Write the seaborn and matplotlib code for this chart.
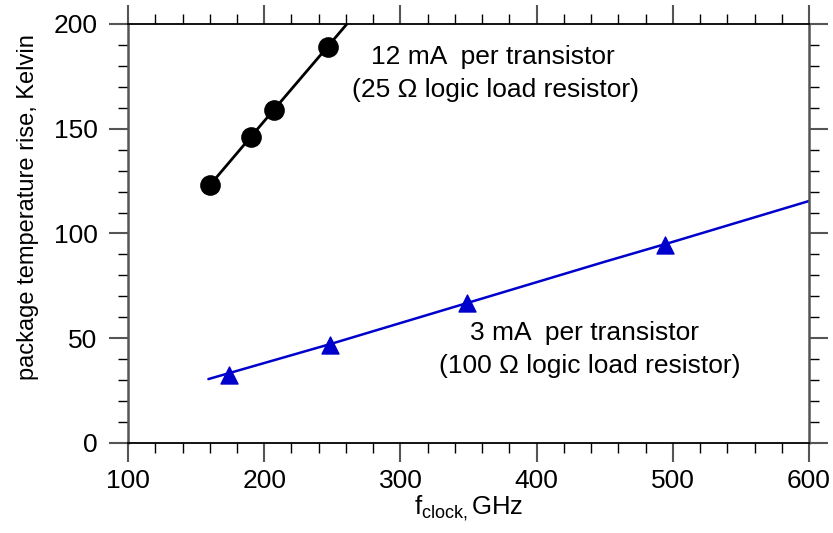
import numpy as np
import pandas as pd
import matplotlib
matplotlib.use("Agg")
import matplotlib.pyplot as plt
import seaborn as sns
from matplotlib.ticker import MultipleLocator

sns.set_style("ticks")
plt.rcParams["font.family"] = ["Liberation Sans", "DejaVu Sans"]
plt.rcParams["mathtext.fontset"] = "custom"
plt.rcParams["mathtext.rm"] = "Liberation Sans"
plt.rcParams["mathtext.it"] = "Liberation Sans"
plt.rcParams["text.color"] = "black"
plt.rcParams["axes.labelcolor"] = "black"
plt.rcParams["xtick.labelcolor"] = "black"
plt.rcParams["ytick.labelcolor"] = "black"

# 12 mA per transistor (25 ohm load)
hi_x = [160, 190, 207, 247]
hi_y = [123, 146, 159, 189]
hi_fit_x = [160, 190, 207, 247, 262]
hi_fit_y = [123, 146, 159, 189.5, 201]

# 3 mA per transistor (100 ohm load)
lo_x = [174, 248, 349, 494]
lo_y = [32.5, 47, 67, 94.5]
lo_fit_x = [159, 250, 350, 450, 500, 600]
lo_fit_y = [30.5, 47.5, 67, 86.5, 96, 115.5]

blue = "#0000cc"

fig = plt.figure(figsize=(8.33, 5.33), dpi=100)
ax = fig.add_axes([0.1537, 0.1689, 0.8175, 0.7861])

sns.lineplot(x=hi_fit_x, y=hi_fit_y, ax=ax, color="black", lw=2, sort=False)
sns.scatterplot(x=hi_x, y=hi_y, ax=ax, color="black", marker="o", s=190,
                edgecolor="black", zorder=5)
sns.lineplot(x=lo_fit_x, y=lo_fit_y, ax=ax, color=blue, lw=1.8, sort=False)
sns.scatterplot(x=lo_x, y=lo_y, ax=ax, color=blue, marker="^", s=150,
                edgecolor=blue, zorder=5)

ax.set_xlim(100, 600)
ax.set_ylim(0, 200)
ax.xaxis.set_major_locator(MultipleLocator(100))
ax.xaxis.set_minor_locator(MultipleLocator(20))
ax.yaxis.set_major_locator(MultipleLocator(50))
ax.yaxis.set_minor_locator(MultipleLocator(10))

ax.tick_params(which="both", direction="out", top=True, right=True,
               labelsize=19)
ax.tick_params(axis="x", which="major", pad=5)
ax.tick_params(axis="y", which="major", pad=8)
ax.tick_params(which="major", length=14, width=1.5, color="#555555")
ax.tick_params(which="minor", length=7, width=1, color="black")
for s in ["left", "right"]:
    ax.spines[s].set_color("#555555")
    ax.spines[s].set_linewidth(1.8)
for s in ["top", "bottom"]:
    ax.spines[s].set_color("black")
    ax.spines[s].set_linewidth(1.3)

ax.set_ylabel("package temperature rise, Kelvin", fontsize=17)
ax.yaxis.set_label_coords(-0.131, 0.563)
ax.set_xlabel(r"f$_{\mathrm{clock,}}$GHz", fontsize=18.5, labelpad=0)

fs = 19
ax.text(0.536, 0.921, "12 mA  per transistor", transform=ax.transAxes,
        ha="center", va="center", fontsize=fs)
ax.text(0.540, 0.8425, "(25 \u03a9 logic load resistor)", transform=ax.transAxes,
        ha="center", va="center", fontsize=fs)
ax.text(0.671, 0.2625, "3 mA  per transistor", transform=ax.transAxes,
        ha="center", va="center", fontsize=fs)
ax.text(0.678, 0.184, "(100 \u03a9 logic load resistor)", transform=ax.transAxes,
        ha="center", va="center", fontsize=fs)

fig.savefig("out.png", dpi=100)
